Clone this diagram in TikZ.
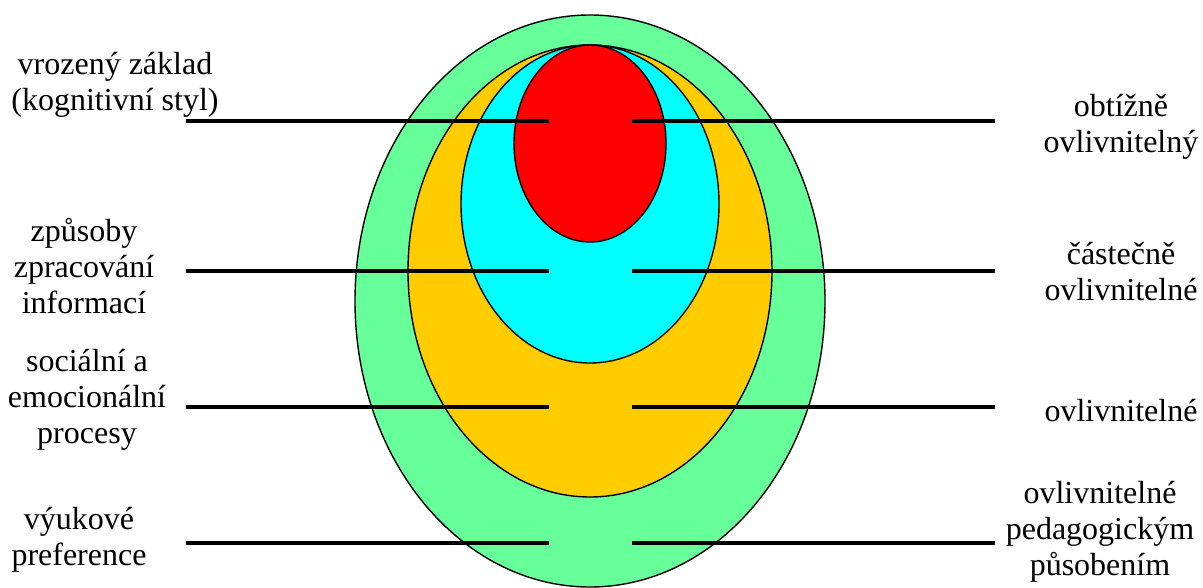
\documentclass[tikz,border=0pt]{standalone}
\usepackage{fontspec}
\setmainfont{Liberation Serif}
\usetikzlibrary{shapes.geometric,positioning}
\definecolor{outergreen}{HTML}{66FF99}
\definecolor{midorange}{HTML}{FFCC00}
\definecolor{innercyan}{HTML}{00FFFF}
\definecolor{corered}{HTML}{FF0000}
\begin{document}
\begin{tikzpicture}[x=1pt,y=-1pt,
oval/.style={draw,ellipse,line width=1.4pt,inner sep=0pt},
lbl/.style={align=center,font=\fontsize{32}{36}\selectfont,inner sep=0pt},
bar/.style={line width=4pt}]
\useasboundingbox (0,0) rectangle (1203,587);
% nested zones
\node[oval,fill=outergreen,minimum width=470,minimum height=572](pedag) at (590,301){};
\node[oval,fill=midorange,minimum width=364,minimum height=452](social) at (590,271){};
\node[oval,fill=innercyan,minimum width=258,minimum height=318](proc) at (590,204){};
\node[oval,fill=corered,minimum width=152,minimum height=197](innate) at (590,143.5){};
% left labels
\node[lbl](lA) at (115,85){vrozený základ\\(kognitivní styl)};
\node[lbl](lB) at (84,266){způsoby\\zpracování\\informací};
\node[lbl](lC) at (87,400){sociální a\\emocionální\\procesy};
\node[lbl](lD) at (79,540){výukové\\preference};
% right labels
\node[lbl](rA) at (1121,127){obtížně\\ovlivnitelný};
\node[lbl](rB) at (1121,272){částečně\\ovlivnitelné};
\node[lbl](rC) at (1121,411){ovlivnitelné};
\node[lbl](rD) at (1100,532){ovlivnitelné\\pedagogickým\\působením};
% bars
\coordinate(a1) at (186,121);\coordinate(a2) at (549,121);
\coordinate(a3) at (632,121);\coordinate(a4) at (995,121);
\coordinate(b1) at (186,271);\coordinate(b2) at (549,271);
\coordinate(b3) at (632,271);\coordinate(b4) at (995,271);
\coordinate(c1) at (186,407);\coordinate(c2) at (549,407);
\coordinate(c3) at (632,407);\coordinate(c4) at (995,407);
\coordinate(d1) at (186,543);\coordinate(d2) at (549,543);
\coordinate(d3) at (632,543);\coordinate(d4) at (995,543);
\draw[bar](a1)--(a2);\draw[bar](a3)--(a4);
\draw[bar](b1)--(b2);\draw[bar](b3)--(b4);
\draw[bar](c1)--(c2);\draw[bar](c3)--(c4);
\draw[bar](d1)--(d2);\draw[bar](d3)--(d4);
\end{tikzpicture}
\end{document}
